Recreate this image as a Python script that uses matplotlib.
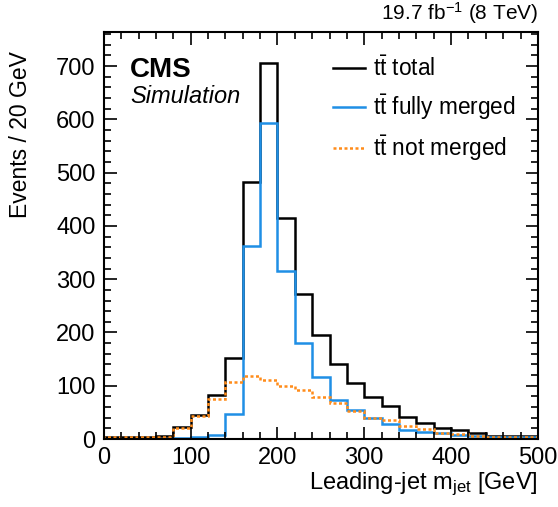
import numpy as np
import matplotlib
matplotlib.use("Agg")
import matplotlib.pyplot as plt
from matplotlib.ticker import MultipleLocator

plt.rcParams["font.family"] = ["Liberation Sans", "DejaVu Sans"]
plt.rcParams["mathtext.fontset"] = "custom"
plt.rcParams["mathtext.rm"] = "Liberation Sans"
plt.rcParams["mathtext.it"] = "Liberation Sans:italic"

# bin edges, 20 GeV wide
edges = np.arange(0, 520, 20)

# events per bin
total = [3, 3, 3, 5, 22, 46, 82, 152, 482, 705, 415, 272, 196, 140,
         106, 78, 62, 42, 31, 21, 17, 12, 6, 6, 5]
fully_merged = [1, 1, 1, 1, 2, 3, 8, 47, 363, 593, 316, 180, 117, 74,
                54, 39, 28, 17, 14, 11, 8, 5, 4, 4, 4]
not_merged = [3, 3, 3, 4, 21, 43, 75, 108, 119, 110, 100, 92, 79, 67,
              52, 39, 35, 25, 18, 12, 9, 6, 4, 4, 4]

labels = [r"$\mathrm{t}\bar{\mathrm{t}}$ total",
          r"$\mathrm{t}\bar{\mathrm{t}}$ fully merged",
          r"$\mathrm{t}\bar{\mathrm{t}}$ not merged"]

fig = plt.figure(figsize=(5.58, 5.07), dpi=100)
ax = fig.add_axes([0.186, 0.134, 0.778, 0.802])

ax.stairs(total, edges, color="black", lw=1.8, label=labels[0])
ax.stairs(fully_merged, edges, color="#1f8fe5", lw=1.8, label=labels[1])
ax.stairs(not_merged, edges, color="#ff8c1a", lw=1.8, ls=(0, (1.2, 1.0)), label=labels[2])

ax.set_xlim(0, 500)
ax.set_ylim(0, 763)
ax.xaxis.set_major_locator(MultipleLocator(100))
ax.xaxis.set_minor_locator(MultipleLocator(20))
ax.yaxis.set_major_locator(MultipleLocator(100))
ax.yaxis.set_minor_locator(MultipleLocator(20))
ax.tick_params(which="both", direction="in", top=True, right=True, labelsize=17, width=1.2)
ax.tick_params(which="major", length=9, pad=6)
ax.tick_params(which="minor", length=5)
for s in ax.spines.values():
    s.set_linewidth(1.5)

ax.set_xlabel(r"Leading-jet m$_{\mathrm{jet}}$ [GeV]", loc="right", fontsize=17, labelpad=1)
ax.set_ylabel("Events / 20 GeV", loc="top", fontsize=16.5)
ax.yaxis.set_label_coords(-0.165, 0.955)

ax.text(0.06, 0.94, "CMS", transform=ax.transAxes, fontsize=20, fontweight="bold", va="top")
ax.text(0.06, 0.87, "Simulation", transform=ax.transAxes, fontsize=17, style="italic", va="top")
ax.text(1.0, 1.015, r"19.7 fb$^{-1}$ (8 TeV)", transform=ax.transAxes, fontsize=15, ha="right", va="bottom")

ax.legend(loc="upper left", bbox_to_anchor=(0.528, 0.94), frameon=False, fontsize=16.3,
          handlelength=1.4, handletextpad=0.35, labelspacing=0.5, borderpad=0, borderaxespad=0)

fig.savefig("out.png", dpi=100)
